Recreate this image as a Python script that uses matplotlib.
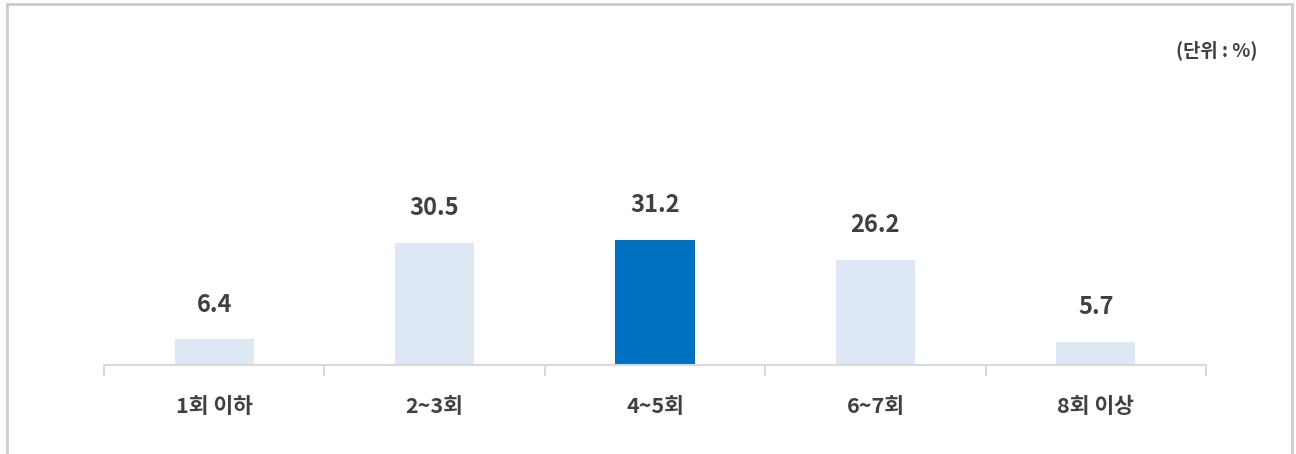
import matplotlib.pyplot as plt
import numpy as np

plt.rcParams['font.family'] = ['Noto Sans CJK KR', 'DejaVu Sans']

# data
categories = ['1회 이하', '2~3회', '4~5회', '6~7회', '8회 이상']
values = [6.4, 30.5, 31.2, 26.2, 5.7]
highlight = 2

light = '#dde8f4'
dark = '#0070c0'
txt = '#404040'
grid_col = '#d9d9d9'

fig = plt.figure(figsize=(12.96, 4.54), dpi=100)
ax = fig.add_axes([104 / 1296, (454 - 365) / 454, (1206 - 104) / 1296, 320 / 454])

x = np.arange(len(categories))
colors = [dark if i == highlight else light for i in range(len(categories))]
ax.bar(x, values, width=0.36, color=colors, zorder=2)

for i, v in zip(x, values):
    ax.annotate(f'{v}', xy=(i, v), xytext=(0, 25), textcoords='offset points',
                ha='center', va='center', fontsize=17, color=txt, fontweight='semibold')

ax.set_xlim(-0.5, len(categories) - 0.5)
ax.set_ylim(0, 80)

for s in ['top', 'right', 'left']:
    ax.spines[s].set_visible(False)
ax.spines['bottom'].set_color(grid_col)
ax.spines['bottom'].set_linewidth(1.5)
ax.set_yticks([])

# boundary ticks
ax.set_xticks(np.arange(-0.5, len(categories)), minor=False)
ax.set_xticklabels([])
ax.tick_params(axis='x', which='major', length=8, width=1.5, color=grid_col, direction='out')
ax.set_xticks(x, minor=True)
ax.set_xticklabels(categories, minor=True)
ax.tick_params(axis='x', which='minor', length=0, pad=22, labelsize=15.5, labelcolor=txt)
for lab in ax.get_xticklabels(minor=True):
    lab.set_fontweight('semibold')

fig.text(1258 / 1296, 1 - 50 / 454, '(단위 : %)', ha='right', va='center',
         fontsize=13.5, fontweight='semibold', color=txt)

# outer border (no bottom edge)
fig.add_artist(plt.Line2D([7 / 1296, 7 / 1296], [0, 1 - 4 / 454], transform=fig.transFigure,
                          color='#cccccc', lw=2))
fig.add_artist(plt.Line2D([7 / 1296, 1292 / 1296], [1 - 4 / 454, 1 - 4 / 454],
                          transform=fig.transFigure, color='#cccccc', lw=2))
fig.add_artist(plt.Line2D([1292 / 1296, 1292 / 1296], [0, 1 - 4 / 454], transform=fig.transFigure,
                          color='#cccccc', lw=2))

fig.savefig('out.png', dpi=100)
